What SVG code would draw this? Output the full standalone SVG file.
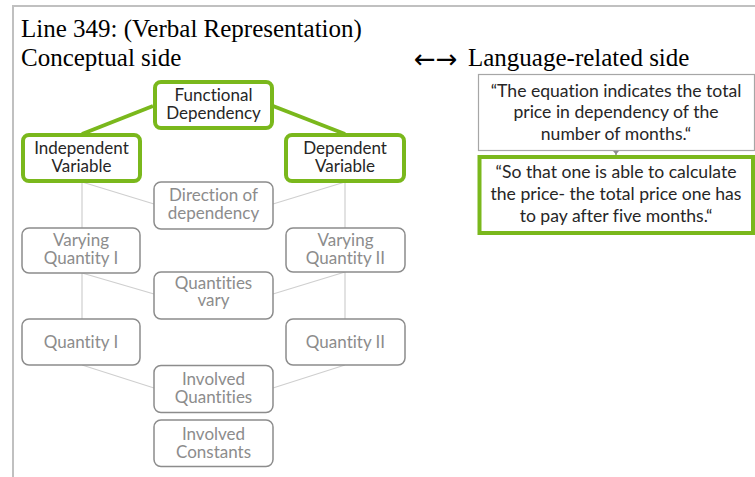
<svg xmlns="http://www.w3.org/2000/svg" width="755" height="477" viewBox="0 0 755 477">
<defs>
<style>
.frame{fill:none;stroke:#c0c0c0;stroke-width:2}
.title{font-family:"Liberation Serif","Times New Roman",serif;font-size:25px;fill:#000}
.arr{font-family:"DejaVu Sans",sans-serif;font-size:26px;fill:#000}
.gbox{fill:#fff;stroke:#7ab81c;stroke-width:4}
.nbox{fill:#fff;stroke:#8c8c8c;stroke-width:1.5}
.qbox{fill:#fff;stroke:#a6a6a6;stroke-width:1.2}
.t{font-family:Lato,"Open Sans",sans-serif;font-size:17px;text-anchor:middle;font-variant-ligatures:none;font-feature-settings:"liga" 0}
.q{font-size:17.6px}
.dark{fill:#262626}
.light{fill:#8c8c8c}
.gline{stroke:#7ab81c;stroke-width:4;fill:none}
.cline{stroke:#cfcfcf;stroke-width:1.2;fill:none}
</style>
</defs>
<rect width="755" height="477" fill="#fff"/>
<path class="frame" d="M13,477 V6 H755"/>
<text class="title" x="21" y="37">Line 349: (Verbal Representation)</text>
<text class="title" x="21" y="66">Conceptual side</text>
<text class="arr" x="414" y="68">←→</text>
<text class="title" x="468" y="66">Language-related side</text>

<g id="connectors">
<line class="gline" x1="153" y1="106" x2="82" y2="134"/>
<line class="gline" x1="273" y1="106" x2="345" y2="134"/>
<line class="cline" x1="82" y1="182" x2="82" y2="228"/>
<line class="cline" x1="82" y1="182" x2="154" y2="204"/>
<line class="cline" x1="345" y1="182" x2="273" y2="204"/>
<line class="cline" x1="345" y1="182" x2="345" y2="228"/>
<line class="cline" x1="82" y1="273" x2="154" y2="294"/>
<line class="cline" x1="345" y1="272" x2="273" y2="294"/>
<line class="cline" x1="82" y1="273" x2="82" y2="319"/>
<line class="cline" x1="345" y1="272" x2="345" y2="319"/>
<line class="cline" x1="82" y1="365" x2="154" y2="388"/>
<line class="cline" x1="345" y1="365" x2="273" y2="388"/>
<line x1="616" y1="150" x2="616" y2="155" stroke="#8c8c8c" stroke-width="1.5"/>
<path d="M611,147 L616,153 L621,147" fill="none" stroke="#8c8c8c" stroke-width="2"/>
</g>

<g id="functional-dependency">
<rect class="gbox" x="155" y="82" width="117" height="46" rx="6"/>
<text class="t dark" x="213.5" y="101">Functional</text>
<text class="t dark" x="213.5" y="119">Dependency</text>
</g>
<g id="independent-variable">
<rect class="gbox" x="23" y="135" width="117" height="46" rx="6"/>
<text class="t dark" x="81.5" y="154">Independent</text>
<text class="t dark" x="81.5" y="171.5">Variable</text>
</g>
<g id="dependent-variable">
<rect class="gbox" x="286" y="135" width="118" height="46" rx="6"/>
<text class="t dark" x="345" y="154">Dependent</text>
<text class="t dark" x="345" y="171.5">Variable</text>
</g>
<g id="direction-of-dependency">
<rect class="nbox" x="154" y="182" width="119" height="47" rx="7"/>
<text class="t light" x="213.5" y="201">Direction of</text>
<text class="t light" x="213.5" y="218.5">dependency</text>
</g>
<g id="varying-quantity-1">
<rect class="nbox" x="22" y="228" width="118" height="45" rx="7"/>
<text class="t light" x="81" y="246">Varying</text>
<text class="t light" x="81" y="263.5">Quantity I</text>
</g>
<g id="varying-quantity-2">
<rect class="nbox" x="286" y="228" width="119" height="44" rx="7"/>
<text class="t light" x="345.5" y="246">Varying</text>
<text class="t light" x="345.5" y="263.5">Quantity II</text>
</g>
<g id="quantities-vary">
<rect class="nbox" x="154" y="272" width="119" height="47" rx="7"/>
<text class="t light" x="213.5" y="288.5">Quantities</text>
<text class="t light" x="213.5" y="306">vary</text>
</g>
<g id="quantity-1">
<rect class="nbox" x="22" y="319" width="118" height="46" rx="7"/>
<text class="t light" x="81" y="347.5">Quantity I</text>
</g>
<g id="quantity-2">
<rect class="nbox" x="286" y="319" width="119" height="46" rx="7"/>
<text class="t light" x="345.5" y="347.5">Quantity II</text>
</g>
<g id="involved-quantities">
<rect class="nbox" x="154" y="365.5" width="119" height="47" rx="7"/>
<text class="t light" x="213.5" y="385">Involved</text>
<text class="t light" x="213.5" y="402.5">Quantities</text>
</g>
<g id="involved-constants">
<rect class="nbox" x="154" y="420" width="119" height="46.5" rx="7"/>
<text class="t light" x="213.5" y="440">Involved</text>
<text class="t light" x="213.5" y="457.5">Constants</text>
</g>

<g id="quote-1">
<rect class="qbox" x="478.5" y="74.5" width="276" height="76"/>
<text class="t q dark" x="616" y="96.5">“The equation indicates the total</text>
<text class="t q dark" x="616" y="118">price in dependency of the</text>
<text class="t q dark" x="616" y="140">number of months.“</text>
</g>
<g id="quote-2">
<rect class="gbox" x="479.5" y="157" width="273.5" height="76"/>
<text class="t q dark" x="616" y="178">“So that one is able to calculate</text>
<text class="t q dark" x="616" y="200">the price- the total price one has</text>
<text class="t q dark" x="616" y="221.5">to pay after five months.“</text>
</g>
</svg>
